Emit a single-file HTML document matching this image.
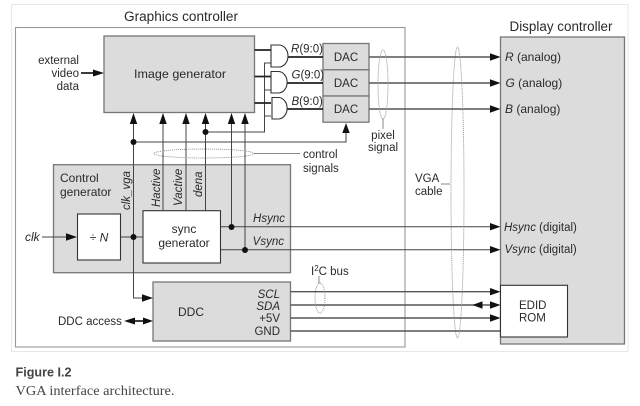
<!DOCTYPE html>
<html><head><meta charset="utf-8"><style>
html,body{margin:0;padding:0;background:#fff;width:640px;height:406px;overflow:hidden}
svg{display:block;filter:blur(.35px)}
text{font-family:"Liberation Sans",sans-serif;font-size:11.5px;fill:#2a2a2a}
.i{font-style:italic}
.b{fill:#dcdcdc;stroke:#777;stroke-width:1.3}
.w{fill:#fff;stroke:#333;stroke-width:1.1}
.l{fill:none;stroke:#444;stroke-width:1}
.t{fill:none;stroke:#222;stroke-width:1.7}
.m{fill:none;stroke:#555;stroke-width:1.4}
.d{fill:none;stroke:#888;stroke-width:.9;stroke-dasharray:1 1}
.g{fill:none;stroke:#888;stroke-width:1}
.a{fill:#111;stroke:none}
</style></head><body>
<svg width="640" height="406" viewBox="0 0 640 406" xmlns="http://www.w3.org/2000/svg">
<rect x="11.5" y="4.5" width="616.5" height="347" fill="#fff" stroke="#e8e8e8"/>
<rect x="15.5" y="27.5" width="389.5" height="319.5" fill="#fff" stroke="#999" stroke-width="1.1"/>
<rect class="b" x="500.5" y="37" width="124" height="307"/>
<rect class="b" x="104" y="36" width="150.5" height="76.5"/>
<rect class="b" x="53.5" y="164.7" width="237" height="108"/>
<rect class="b" x="153" y="282" width="137.5" height="59"/>
<rect class="b" x="323" y="43.5" width="46" height="26.3"/>
<rect class="b" x="323" y="69.8" width="46" height="26.2"/>
<rect class="b" x="323" y="96" width="46" height="26.2"/>

<!-- signal lines -->
<path class="m" d="M369 57H490M369 83H490M369 109H490"/>
<path class="l" d="M220.500 226.700H490M220.500 249.700H490"/>
<path class="m" d="M290.500 291.700H490M290.500 305H490M290.500 318H490M290.500 331H500"/>
<path class="l" stroke-width="1.1" d="M133.500 118V298H145M163 118V211M186 118V211M205.500 118V211M231.500 118V226.700M245 118V249.700"/>
<path class="l" d="M133.500 142H346V130M205.500 132H264.500V63H271M264.500 90H271M264.500 116H271"/>
<path class="l" d="M42 237H70M120.500 237H143"/>
<path class="t" d="M254.500 50H271M254.500 76.500H271M254.500 103H271M287 57H323M287 83H323M287 109H323"/>
<path class="t" d="M81 73H96M130 321H148"/>
<rect class="w" x="77.500" y="214" width="43" height="46"/>
<rect class="w" x="143" y="210.700" width="77.500" height="52.300"/>
<rect class="w" x="500.500" y="285.300" width="67" height="51.700"/>

<!-- AND gates -->
<path d="M271 45H279A9 11 0 0 1 279 67H271Z" fill="#fff" stroke="#333" stroke-width="1.100"/>
<path d="M271 71.500H279A9 10.800 0 0 1 279 93H271Z" fill="#fff" stroke="#333" stroke-width="1.100"/>
<path d="M272 97.500H279A9 10.800 0 0 1 279 119H272Z" fill="#fff" stroke="#333" stroke-width="1.100"/>

<!-- arrowheads -->
<path class="a" d="M133.500 113L129.800 124H137.200ZM163 113L159.300 124H166.700ZM186 113L182.300 124H189.700ZM205.500 113L201.800 124H209.200ZM231.500 113L227.800 124H235.200ZM245 113L241.300 124H248.700ZM346 123L342.300 133H349.700Z"/>
<path class="a" d="M104 73L93 69.500V76.500ZM77 237L66 233.300V240.700ZM153 298L142 294.300V301.700ZM153 321L143 317.500V324.500ZM124 321L135 317.500V324.500Z"/>
<path class="a" d="M500.500 57L490 53.300V60.700ZM500.500 83L490 79.300V86.700ZM500.500 109L490 105.300V112.700ZM500.500 226.700L490 223V230.400ZM500.500 249.700L490 246V253.400ZM500.500 291.700L490 288V295.400ZM500.500 305L490 301.300V308.700ZM500.500 318L490 314.300V321.700ZM472.500 305L482.500 301.300V308.700Z"/>
<circle class="a" cx="133.500" cy="142" r="3"/>
<circle class="a" cx="205.500" cy="132" r="3"/>
<circle class="a" cx="133.500" cy="237" r="3"/>
<circle class="a" cx="231.500" cy="227" r="3"/>
<circle class="a" cx="245" cy="250" r="3"/>

<!-- ellipses and leaders -->
<ellipse class="d" cx="204" cy="153.500" rx="50" ry="4.500"/>
<path class="g" d="M254 153.500H300M383 119V129M441 184H450M319 276V284"/>
<ellipse class="d" cx="383" cy="84.500" rx="5" ry="34.500"/>
<ellipse class="d" cx="457.500" cy="192.500" rx="6.500" ry="145.500"/>
<ellipse class="d" cx="320" cy="298" rx="5" ry="15"/>

<!-- labels -->
<text x="124" y="21" style="font-size:13.5px" textLength="114" lengthAdjust="spacingAndGlyphs">Graphics controller</text>
<text x="509.500" y="31" style="font-size:13.5px" textLength="103" lengthAdjust="spacingAndGlyphs">Display controller</text>
<text x="79" y="64" text-anchor="end">external</text>
<text x="79" y="77" text-anchor="end">video</text>
<text x="79" y="90" text-anchor="end">data</text>
<text x="134" y="78" style="font-size:12px" textLength="92" lengthAdjust="spacingAndGlyphs">Image generator</text>
<text x="291" y="52.500"><tspan class="i">R</tspan>(9:0)</text>
<text x="291.500" y="78.500"><tspan class="i">G</tspan>(9:0)</text>
<text x="291.500" y="105"><tspan class="i">B</tspan>(9:0)</text>
<text x="346" y="61" text-anchor="middle">DAC</text>
<text x="346" y="87" text-anchor="middle">DAC</text>
<text x="346" y="113" text-anchor="middle">DAC</text>
<text x="383" y="139" text-anchor="middle">pixel</text>
<text x="383" y="151" text-anchor="middle">signal</text>
<text x="303" y="158">control</text>
<text x="303" y="172">signals</text>
<text x="415" y="182">VGA</text>
<text x="415" y="195">cable</text>
<text x="60" y="182" style="font-size:12px">Control</text>
<text x="60" y="196" style="font-size:12px">generator</text>
<text class="i" transform="translate(130 210) rotate(-90)">clk_vga</text>
<text class="i" transform="translate(160 207) rotate(-90)">Hactive</text>
<text class="i" transform="translate(182 206) rotate(-90)">Vactive</text>
<text class="i" transform="translate(202 197) rotate(-90)">dena</text>
<text class="i" x="25" y="241" style="font-size:12px">clk</text>
<text x="99" y="241.500" text-anchor="middle" style="font-size:12px">÷ <tspan class="i">N</tspan></text>
<text x="184" y="233" text-anchor="middle" style="font-size:12px">sync</text>
<text x="184" y="247" text-anchor="middle" style="font-size:12px">generator</text>
<text class="i" x="285" y="222" text-anchor="end">Hsync</text>
<text class="i" x="284" y="245" text-anchor="end">Vsync</text>
<text x="191" y="316" text-anchor="middle" style="font-size:12px">DDC</text>
<text class="i" x="280" y="298" text-anchor="end">SCL</text>
<text class="i" x="280" y="310" text-anchor="end">SDA</text>
<text x="280" y="322" text-anchor="end">+5V</text>
<text x="280" y="335" text-anchor="end">GND</text>
<text x="58" y="325" style="font-size:11.500px">DDC access</text>
<text x="311" y="275">I<tspan dy="-4" style="font-size:8px">2</tspan><tspan dy="4">C bus</tspan></text>
<text x="505" y="61" style="font-size:12px"><tspan class="i">R</tspan> (analog)</text>
<text x="505.500" y="87" style="font-size:12px"><tspan class="i">G</tspan> (analog)</text>
<text x="505" y="113" style="font-size:12px"><tspan class="i">B</tspan> (analog)</text>
<text x="504" y="231" style="font-size:11.500px"><tspan class="i">Hsync</tspan> (digital)</text>
<text x="504.500" y="253" style="font-size:11.500px"><tspan class="i">Vsync</tspan> (digital)</text>
<text x="519" y="309">EDID</text>
<text x="519" y="321.500">ROM</text>

<!-- caption -->
<text x="15.500" y="376.500" style="font-size:13px;font-weight:bold;fill:#444" textLength="56" lengthAdjust="spacingAndGlyphs">Figure I.2</text>
<text x="15.500" y="395" style="font-family:'Liberation Serif',serif;font-size:13.500px;fill:#444" textLength="159" lengthAdjust="spacingAndGlyphs">VGA interface architecture.</text>
</svg>
</body></html>
